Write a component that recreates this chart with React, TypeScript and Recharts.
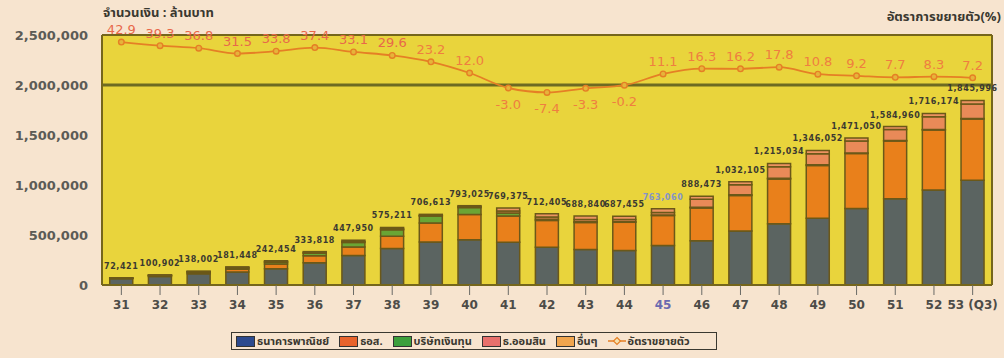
import {
  ComposedChart, Bar, Line, XAxis, YAxis, CartesianGrid, ReferenceLine, LabelList,
} from 'recharts'

// page / plot colours
const PAGE = '#f7e4cf'
const PLOT = '#e9d43c'
const EDGE = '#75661c'
const INK = '#4d4c48'
const THAI = "'Noto Sans Thai', 'Loma', 'Garuda', 'Norasi', 'DejaVu Sans', sans-serif"

// bar fills as drawn, legend swatches as printed in the key
const C = { bank: '#5b6461', ghb: '#e9801b', fin: '#6aa534', gsb: '#e98a58', other: '#ec9262', growth: '#e57f25' }
const KEY = { bank: '#2c4a8e', ghb: '#e8632b', fin: '#3c9f3c', gsb: '#e8706c', other: '#f0a54e' }

const YEARS = ['31', '32', '33', '34', '35', '36', '37', '38', '39', '40', '41', '42', '43', '44', '45', '46', '47', '48', '49', '50', '51', '52', '53 (Q3)']

// สินเชื่อที่อยู่อาศัย (ล้านบาท) แยกตามสถาบัน
const BANK = [62000, 85000, 112000, 130000, 163000, 222000, 296000, 365000, 430000, 452000, 427000, 378000, 355000, 345000, 395000, 443000, 540000, 612000, 668000, 765000, 862000, 950000, 1048000]
const GHB = [5000, 8000, 14000, 28000, 48000, 70000, 85000, 122000, 190000, 252000, 262000, 268000, 270000, 282000, 300000, 327000, 355000, 447000, 527000, 550000, 578000, 600000, 612000]
const FIN = [3000, 4000, 6000, 12000, 17000, 26000, 45000, 65000, 70000, 70000, 30000, 12000, 8000, 6000, 5000, 8000, 8000, 8000, 8000, 6000, 5000, 5000, 5000]
const GSB = [1000, 1500, 2500, 4000, 5000, 6000, 8000, 9000, 5000, 10000, 20000, 22000, 22000, 22000, 25000, 80000, 100000, 115000, 110000, 120000, 110000, 128000, 145000]
const OTHER = [1421, 2402, 3502, 7448, 9454, 9818, 13950, 14211, 11613, 9025, 30375, 32405, 33840, 32455, 38060, 30473, 29105, 33034, 33052, 30050, 29960, 33174, 35996]
const TOTAL = [72421, 100902, 138002, 181448, 242454, 333818, 447950, 575211, 706613, 793025, 769375, 712405, 688840, 687455, 763060, 888473, 1032105, 1215034, 1346052, 1471050, 1584960, 1716174, 1845996]
const GROWTH = [42.9, 39.3, 36.8, 31.5, 33.8, 37.4, 33.1, 29.6, 23.2, 12.0, -3.0, -7.4, -3.3, -0.2, 11.1, 16.3, 16.2, 17.8, 10.8, 9.2, 7.7, 8.3, 7.2]

const Y_TICKS = [0, 500000, 1000000, 1500000, 2000000, 2500000]
const HIGHLIGHT = '45'

const rows = YEARS.map((year, i) => ({
  year, bank: BANK[i], ghb: GHB[i], fin: FIN[i], gsb: GSB[i], other: OTHER[i], total: TOTAL[i], growth: GROWTH[i],
}))

const fmt = (v: number) => v.toLocaleString('en-US')

const LEGEND = [
  { name: 'ธนาคารพาณิชย์', color: KEY.bank },
  { name: 'ธอส.', color: KEY.ghb },
  { name: 'บริษัทเงินทุน', color: KEY.fin },
  { name: 'ธ.ออมสิน', color: KEY.gsb },
  { name: 'อื่นๆ', color: KEY.other },
]

function XTick({ x, y, payload }: any) {
  const hi = payload.value === HIGHLIGHT
  return (
    <text x={x} y={y} dy={10} textAnchor="middle" fontSize={12} fontWeight="bold"
      fontFamily="DejaVu Sans" fill={hi ? '#6a6ab0' : INK}>
      {payload.value}
    </text>
  )
}

function TotalLabel({ x, y, width, value, index }: any) {
  return (
    <text x={x + width / 2} y={y - 9} textAnchor="middle" fontSize={8} fontWeight="bold"
      fontFamily="DejaVu Sans" letterSpacing={0.6}
      fill={YEARS[index] === HIGHLIGHT ? '#8595c8' : '#3c3a30'}>
      {fmt(value)}
    </text>
  )
}

function GrowthLabel({ x, y, value }: any) {
  const up = value >= 0
  return (
    <text x={x} y={up ? y - 8 : y + 21} textAnchor="middle" fontSize={13}
      fontFamily="DejaVu Sans" fill={value >= 25 ? '#e8684a' : '#ef7e40'}>
      {value.toFixed(1)}
    </text>
  )
}

function GrowthDot({ cx, cy }: any) {
  return <circle cx={cx} cy={cy} r={2.8} fill="#e6b43a" stroke={C.growth} strokeWidth={1.4} />
}

export default function App() {
  return (
    <div style={{ position: 'absolute', left: 0, top: 0, width: 1004, height: 358, background: PAGE, overflow: 'hidden' }}>
      <div style={{ position: 'absolute', left: 103, top: 6, lineHeight: '14px', fontFamily: THAI, fontWeight: 'bold', fontSize: 13, color: '#3a3830' }}>
        จำนวนเงิน : ล้านบาท
      </div>
      <div style={{ position: 'absolute', right: 3, top: 10, lineHeight: '14px', fontFamily: THAI, fontWeight: 'bold', fontSize: 13, color: '#3a3830' }}>
        อัตราการขยายตัว(%)
      </div>

      <ComposedChart width={1004} height={358} data={rows} barCategoryGap="20%"
        margin={{ top: 35, right: 0, bottom: 40, left: 0 }} style={{ fontFamily: 'DejaVu Sans' }}>
        <CartesianGrid fill={PLOT} horizontal={false} vertical={false} />
        <XAxis dataKey="year" interval={0} height={33} tickSize={10} tickMargin={4}
          tick={<XTick />} tickLine={{ stroke: '#6a6a66' }} axisLine={{ stroke: EDGE, strokeWidth: 2 }} />
        <YAxis width={102} domain={[0, 2500000]} ticks={Y_TICKS} tickFormatter={fmt}
          tickLine={false} tickSize={0} tickMargin={14} axisLine={{ stroke: EDGE, strokeWidth: 2 }}
          tick={{ fontSize: 13, fontWeight: 'bold', fill: '#5c5b56', fontFamily: 'DejaVu Sans' }} />
        <YAxis yAxisId="g" orientation="right" width={12} domain={[-200, 50]} tick={false}
          tickLine={false} axisLine={{ stroke: EDGE, strokeWidth: 2 }} />
        <ReferenceLine y={2500000} stroke={EDGE} strokeWidth={2} />
        <ReferenceLine y={2000000} stroke="#6d6a22" strokeWidth={3} />

        <Bar dataKey="bank" stackId="a" fill={C.bank} stroke="#6b5818" strokeWidth={1.5} isAnimationActive={false} />
        <Bar dataKey="ghb" stackId="a" fill={C.ghb} stroke="#6b5818" strokeWidth={1.5} isAnimationActive={false} />
        <Bar dataKey="fin" stackId="a" fill={C.fin} stroke="#6b5818" strokeWidth={1.5} isAnimationActive={false} />
        <Bar dataKey="gsb" stackId="a" fill={C.gsb} stroke="#6b5818" strokeWidth={1.5} isAnimationActive={false} />
        <Bar dataKey="other" stackId="a" fill={C.other} stroke="#6b5818" strokeWidth={1.5} isAnimationActive={false}>
          <LabelList dataKey="total" content={<TotalLabel />} />
        </Bar>

        <Line yAxisId="g" dataKey="growth" type="monotone" stroke={C.growth} strokeWidth={1.8}
          dot={<GrowthDot />} activeDot={false} isAnimationActive={false}>
          <LabelList dataKey="growth" content={<GrowthLabel />} />
        </Line>
      </ComposedChart>

      <div style={{
        position: 'absolute', left: 231, top: 332, width: 486, height: 18, boxSizing: 'border-box',
        border: '1px solid #3a3830', display: 'flex', alignItems: 'center', gap: 10, paddingLeft: 4,
        fontFamily: THAI, fontWeight: 'bold', fontSize: 11, color: '#3a3830', whiteSpace: 'nowrap',
      }}>
        {LEGEND.map((l) => (
          <span key={l.name} style={{ display: 'flex', alignItems: 'center', gap: 2 }}>
            <span style={{ display: 'inline-block', width: 17, height: 9, background: l.color, border: '1px solid #333' }} />
            {l.name}
          </span>
        ))}
        <span style={{ display: 'flex', alignItems: 'center', gap: 2 }}>
          <svg width={18} height={10}>
            <line x1={0} y1={5} x2={18} y2={5} stroke={C.growth} strokeWidth={1.5} />
            <polygon points="9,1.5 12.5,5 9,8.5 5.5,5" fill="#f6e2b0" stroke={C.growth} strokeWidth={1.2} />
          </svg>
          อัตราขยายตัว
        </span>
      </div>
    </div>
  )
}
